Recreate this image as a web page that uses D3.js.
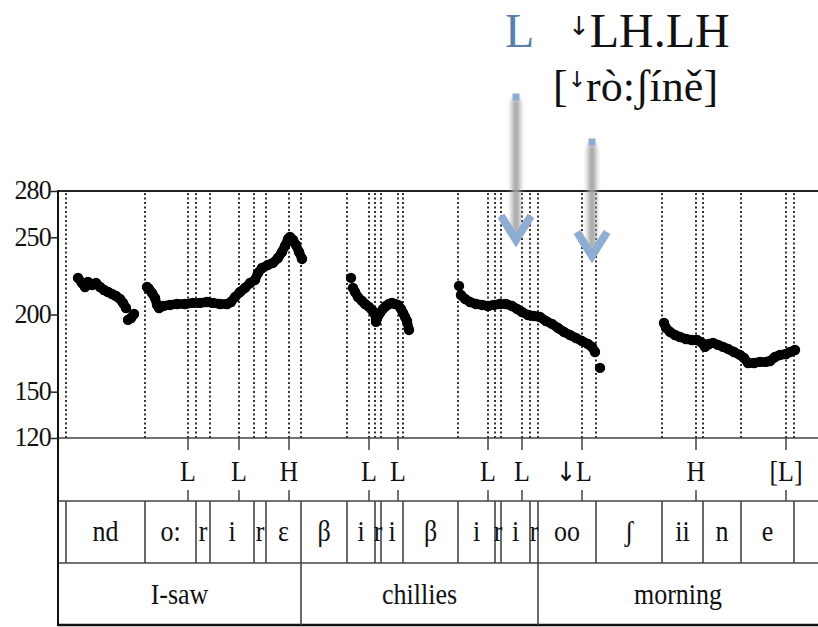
<!DOCTYPE html>
<html>
<head>
<meta charset="utf-8">
<script src="https://cdn.jsdelivr.net/npm/d3@7"></script>
<style>
  body { margin: 0; background: #fff; }
  text { font-family: "Liberation Serif", "DejaVu Serif", serif; fill: #111; }
  .arrowglyph { font-family: "DejaVu Sans", sans-serif; }
</style>
</head>
<body>
<svg width="818" height="627"></svg>
<script>
// time in ms, f0 in Hz
var contourA1 = [[40,223.7],[48,220.4],[54,217.8],[60,221.1],[68,219.1],[76,220.4],[84,217.8],[92,215.9],[100,214.6],[108,213.3],[116,212.0],[124,210.1],[130,207.5],[136,204.2]];
var contourA2 = [[140,196.5],[146,197.7],[152,200.3]];
var contourB = [[178,217.8],[182,216.5],[188,213.9],[194,210.7],[198,206.2],[202,204.2],[210,205.5],[224,206.2],[238,206.8],[254,206.8],[270,207.5],[284,207.5],[298,208.1],[310,207.5],[324,206.8],[338,206.8],[346,208.1],[354,211.3],[364,214.6],[374,217.2],[384,220.4],[394,222.4],[400,226.9],[408,230.1],[420,232.1],[430,233.4],[440,236.6],[448,240.5],[454,244.4],[460,248.9],[464,250.2],[470,248.3],[476,245.0],[482,240.5],[488,236.0]];
var contourC1 = [[586,223.7]];
var contourC2 = [[590,217.2],[594,214.6],[600,211.3],[608,208.8],[614,206.8],[622,204.9],[628,202.9],[634,200.3],[636,195.2],[640,199.0],[644,201.0],[650,203.6],[656,205.5],[662,206.8],[668,207.5],[674,206.8],[680,206.2],[686,203.6],[690,201.0],[694,198.4],[698,195.8],[702,190.0]];
var contourD1 = [[802,218.5]];
var contourD2 = [[806,212.6],[814,210.1],[824,208.1],[836,206.8],[848,206.2],[860,205.5],[872,206.2],[884,206.8],[896,206.8],[908,205.5],[918,203.6],[928,201.6],[940,199.7],[952,199.0],[964,198.4],[976,195.8],[988,193.9],[1000,191.3],[1012,188.7],[1024,186.7],[1036,184.8],[1048,182.8],[1060,180.9],[1068,179.0],[1074,175.7]];
var contourD3 = [[1084,165.4]];
var contourE = [[1212,194.5],[1216,191.3],[1224,188.7],[1234,186.7],[1244,185.4],[1256,184.1],[1268,183.5],[1278,183.5],[1288,181.6],[1294,179.0],[1302,180.9],[1310,181.6],[1320,180.3],[1330,179.0],[1340,177.7],[1352,175.7],[1364,173.8],[1372,171.8],[1380,168.6],[1392,168.6],[1404,169.3],[1416,169.3],[1424,169.9],[1434,172.5],[1444,173.8],[1456,174.4],[1464,175.7],[1474,177.0]];
var contours = [contourA1, contourA2, contourB, contourC1, contourC2, contourD1, contourD2, contourD3, contourE];

var yTicks = [120, 150, 200, 250, 280];

var segBounds = [16, 174, 276, 304, 392, 416, 486, 578, 634, 646, 690, 800, 874, 886, 944, 960, 1076, 1208, 1290, 1366, 1472];
var segLabels = ["", "nd", "o:", "r", "i", "r", "\u025B", "\u03B2", "i", "r", "i", "\u03B2", "i", "r", "i", "r", "oo", "\u0283", "ii", "n", "e", ""];

var toneTimes = [260, 362, 462, 622, 680, 860, 928, 1048, 1276, 1456];
var toneLabels = ["L", "L", "H", "L", "L", "L", "L", "\u2193L", "H", "[L]"];

var wordBounds = [486, 960];
var wordLabels = ["I-saw", "chillies", "morning"];

// arrows: [time ms, tip Hz, start y px]
var arrows = [[916, 247, 97], [1068, 236.6, 142]];

var svg = d3.select("svg");
var width = +svg.attr("width");
var height = +svg.attr("height");

var x = d3.scaleLinear().domain([0, 1520]).range([58, 818]);
var y = d3.scaleLinear().domain([120, 280]).range([438, 191]);

var tierTone = [438, 501], tierSeg = [501, 563], tierWord = [563, 625];

// dotted boundaries
var dotted = segBounds.concat(toneTimes);
svg.append("g").selectAll("line").data(dotted).enter().append("line")
  .attr("x1", d => Math.round(x(d))).attr("x2", d => Math.round(x(d)))
  .attr("y1", 193).attr("y2", 438)
  .attr("stroke", "#333").attr("stroke-width", 2)
  .attr("stroke-dasharray", "2,2.5");

// frame
svg.append("line").attr("x1", 58).attr("x2", width).attr("y1", 191).attr("y2", 191)
  .attr("stroke", "#222").attr("stroke-width", 2.2);
[438, 501, 563].forEach(function(yy) {
  svg.append("line").attr("x1", 58).attr("x2", width).attr("y1", yy).attr("y2", yy)
    .attr("stroke", "#444").attr("stroke-width", 1.6);
});
svg.append("line").attr("x1", 58).attr("x2", width).attr("y1", 625).attr("y2", 625)
  .attr("stroke", "#111").attr("stroke-width", 2.5);
svg.append("line").attr("x1", 58).attr("x2", 58).attr("y1", 190).attr("y2", 626)
  .attr("stroke", "#111").attr("stroke-width", 2);

// y axis
var yAxis = svg.append("g").attr("transform", "translate(58,0)")
  .call(d3.axisLeft(y).tickValues(yTicks).tickSize(7).tickPadding(0));
yAxis.select(".domain").remove();
yAxis.selectAll("line").attr("stroke", "#222").attr("stroke-width", 1.5);
yAxis.selectAll("text").attr("font-size", 26).attr("font-family", "Liberation Serif")
  .attr("fill", "#111").attr("letter-spacing", -0.8)
  .attr("transform", "scale(1,1.08)").attr("dy", "0.28em");
yAxis.selectAll(".tick text").attr("y", 0);

function stretch(sel, cx, cy) {
  sel.attr("transform", (d, i) => "translate(" + cx(d, i) + "," + cy + ") scale(1,1.12)");
}

// tone tier
var tones = svg.append("g");
tones.selectAll("line.top").data(toneTimes).enter().append("line")
  .attr("x1", d => x(d)).attr("x2", d => x(d)).attr("y1", tierTone[0]).attr("y2", tierTone[0] + 12)
  .attr("stroke", "#444").attr("stroke-width", 1.5);
tones.selectAll("line.bot").data(toneTimes).enter().append("line")
  .attr("x1", d => x(d)).attr("x2", d => x(d)).attr("y1", tierTone[1] - 11).attr("y2", tierTone[1])
  .attr("stroke", "#444").attr("stroke-width", 1.5);
var toneText = tones.selectAll("text").data(toneLabels).enter().append("text")
  .attr("text-anchor", "middle")
  .attr("font-size", 26);
stretch(toneText, (d, i) => x(toneTimes[i]) + (d.charAt(0) === "\u2193" ? -8 : 0), 481);
toneText.each(function(d) {
  var t = d3.select(this);
  if (d.charAt(0) === "\u2193") {
    t.append("tspan").attr("class", "arrowglyph").attr("font-size", 24).text("\u2193");
    t.append("tspan").text(d.slice(1));
  } else {
    t.text(d);
  }
});

// segment tier
svg.append("g").selectAll("line").data(segBounds).enter().append("line")
  .attr("x1", d => x(d)).attr("x2", d => x(d)).attr("y1", tierSeg[0]).attr("y2", tierSeg[1])
  .attr("stroke", "#444").attr("stroke-width", 1.6);
var segEdges = [0].concat(segBounds).concat([1520]);
var segText = svg.append("g").selectAll("text").data(segLabels).enter().append("text")
  .attr("text-anchor", "middle")
  .attr("font-size", 26)
  .text(d => d);
stretch(segText, (d, i) => (x(segEdges[i]) + x(segEdges[i + 1])) / 2, 541);

// word tier
svg.append("g").selectAll("line").data(wordBounds).enter().append("line")
  .attr("x1", d => x(d)).attr("x2", d => x(d)).attr("y1", tierWord[0]).attr("y2", tierWord[1])
  .attr("stroke", "#444").attr("stroke-width", 1.6);
var wordEdges = [0].concat(wordBounds).concat([1520]);
var wordText = svg.append("g").selectAll("text").data(wordLabels).enter().append("text")
  .attr("text-anchor", "middle")
  .attr("font-size", 26)
  .text(d => d);
stretch(wordText, (d, i) => (x(wordEdges[i]) + x(wordEdges[i + 1])) / 2, 604);

// pitch contour
var line = d3.line().x(d => x(d[0])).y(d => y(d[1]));
var pitch = svg.append("g");
pitch.selectAll("path").data(contours.filter(c => c.length > 1)).enter().append("path")
  .attr("d", line)
  .attr("fill", "none").attr("stroke", "#000")
  .attr("stroke-width", 9.5).attr("stroke-linecap", "round").attr("stroke-linejoin", "round");
pitch.selectAll("circle").data(d3.merge(contours)).enter().append("circle")
  .attr("cx", d => x(d[0])).attr("cy", d => y(d[1])).attr("r", 5.2)
  .attr("fill", "#000");

// annotation arrows
var defs = svg.append("defs");
defs.append("filter").attr("id", "soft").attr("x", "-2").attr("width", "5")
  .append("feGaussianBlur").attr("stdDeviation", 2.6);
var arr = svg.append("g");
arrows.forEach(function(a) {
  var ax = x(a[0]), tip = y(a[1]);
  arr.append("rect").attr("x", ax - 4).attr("y", a[2] + 2).attr("width", 8).attr("height", tip - a[2] - 10)
    .attr("fill", "#a4a4a4").attr("filter", "url(#soft)");
  arr.append("rect").attr("x", ax - 3.5).attr("y", a[2] - 3.5).attr("width", 7).attr("height", 7)
    .attr("fill", "#8fadd3");
  arr.append("polyline")
    .attr("points", [[ax - 15, tip - 26], [ax, tip - 2], [ax + 15, tip - 26]].map(p => p.join(",")).join(" "))
    .attr("fill", "none").attr("stroke", "#8fadd3").attr("stroke-width", 8)
    .attr("stroke-linejoin", "miter");
});

// annotation text
svg.append("text").attr("x", 505).attr("y", 47).attr("font-size", 48)
  .style("fill", "#5b7fad").text("L");
var t1 = svg.append("text").attr("x", 568).attr("y", 47).attr("font-size", 48);
t1.append("tspan").attr("class", "arrowglyph").attr("font-size", 26).attr("dy", -12).text("\u2193");
t1.append("tspan").attr("dy", 12).text("LH.LH");
var t2 = svg.append("text").attr("x", 553).attr("y", 101).attr("font-size", 44);
t2.append("tspan").text("[");
t2.append("tspan").attr("class", "arrowglyph").attr("font-size", 22).attr("dy", -14).text("\u2193");
t2.append("tspan").attr("dy", 14).text("r\u00F2:\u0283\u00EDn\u011B]");
</script>
</body>
</html>
